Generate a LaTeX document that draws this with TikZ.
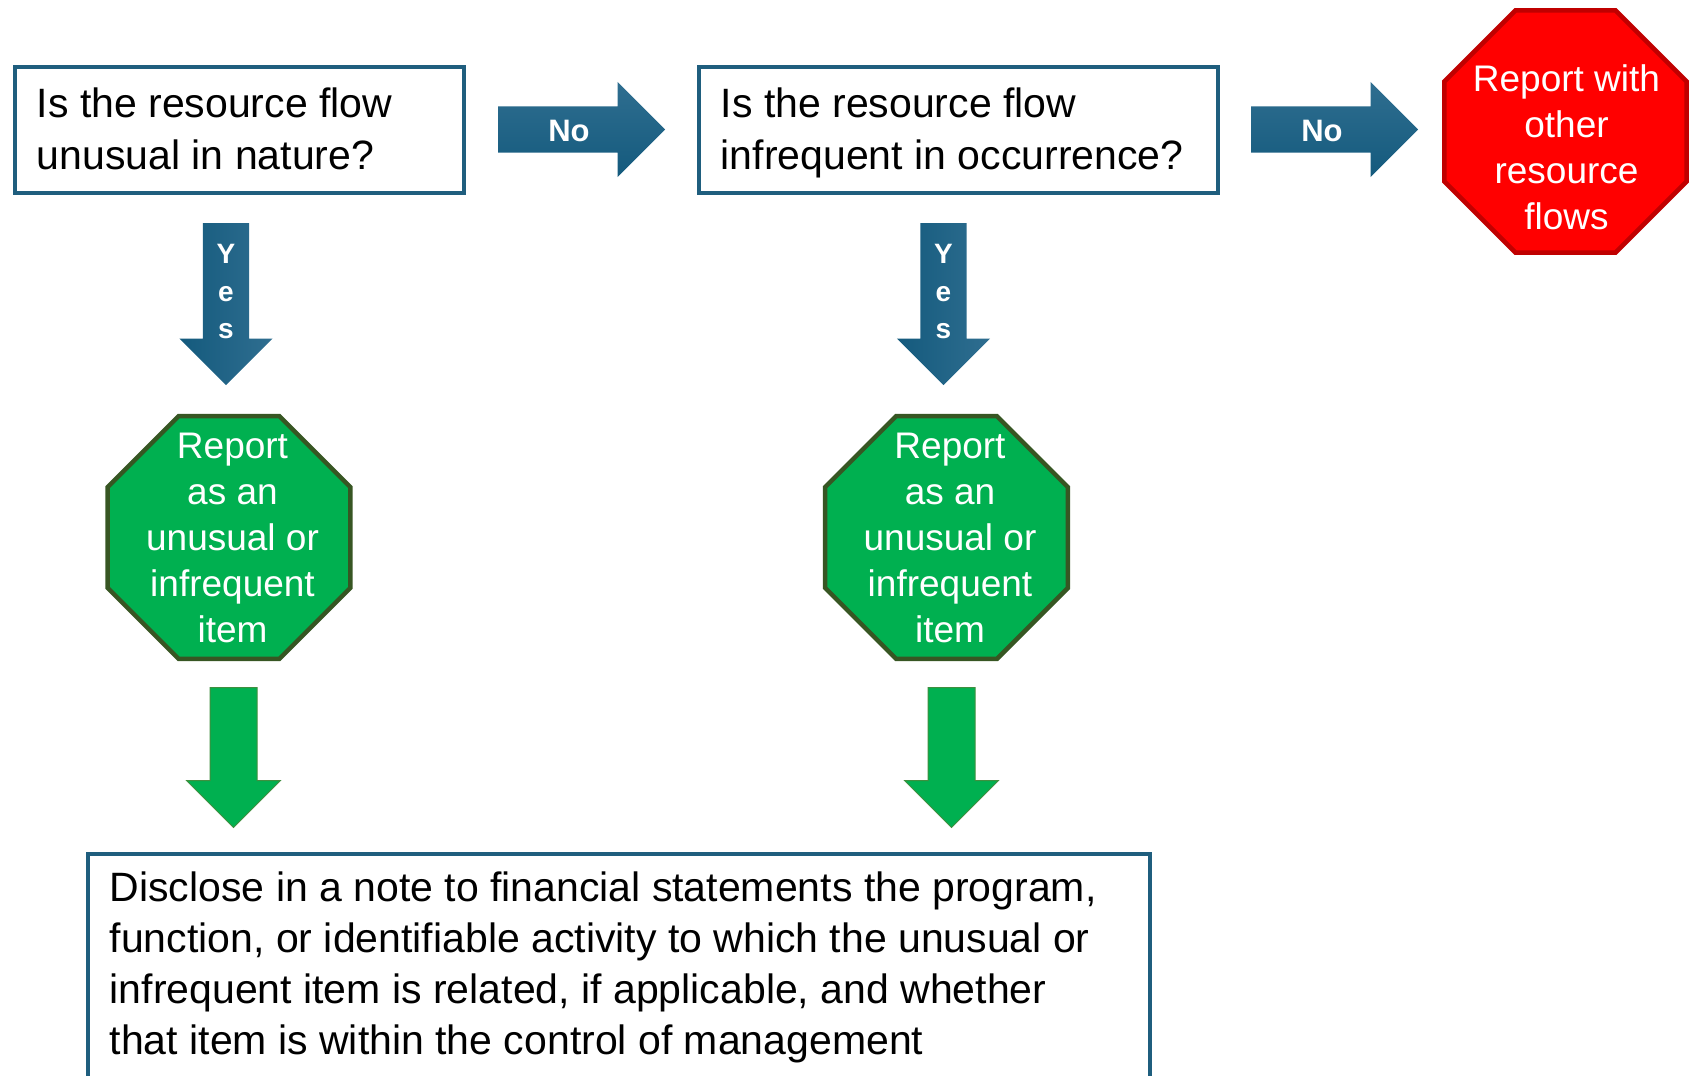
\documentclass[tikz,border=0pt]{standalone}
\usepackage{fontspec}
\setmainfont{Liberation Sans}
\usetikzlibrary{shapes.geometric,shapes.arrows}
\definecolor{boxblue}{HTML}{1F5E7E}
\definecolor{arrowblue}{HTML}{145A7D}
\definecolor{arrowlight}{HTML}{2F6E90}
\definecolor{stopgreen}{HTML}{00B050}
\definecolor{stopgreenline}{HTML}{375623}
\definecolor{greenedge}{HTML}{3F8F3F}
\definecolor{stopred}{HTML}{FF0000}
\definecolor{stopredline}{HTML}{C00000}
\newcommand\wordgap{\spaceskip=0.278em plus 0.1em minus 0.05em\relax}

\begin{document}
\begin{tikzpicture}
[x=1pt,y=-1pt,
 question/.style={draw=boxblue,line width=3.5pt,fill=white,anchor=north west,
   align=left,inner xsep=22pt,font=\fontsize{41}{52}\selectfont,
   execute at begin node=\wordgap},
 stopsign/.style={regular polygon,regular polygon sides=8,line width=4.5pt,inner sep=0pt},
 signtext/.style={text=white,align=center,font=\fontsize{37}{46}\selectfont},
 blockarrow/.style={single arrow,anchor=tail,minimum width=0pt,inner sep=23pt,
   single arrow tip angle=90},
 noarrow/.style={blockarrow,minimum height=167pt,single arrow head extend=24.5pt,
   top color=arrowlight,bottom color=arrowblue},
 yesarrow/.style={blockarrow,shape border rotate=270,minimum height=162pt,
   single arrow head extend=23.5pt,left color=arrowblue,right color=arrowlight},
 greenarrow/.style={blockarrow,shape border rotate=270,minimum height=140pt,
   single arrow head extend=23.5pt,fill=stopgreen,draw=greenedge,line width=1pt},
 nolabel/.style={text=white,font=\fontsize{31}{31}\bfseries\selectfont},
 yeslabel/.style={text=white,align=center,font=\fontsize{28}{37.5}\bfseries\selectfont}]

	\useasboundingbox (0,0) rectangle (1692,1076);
	\clip (0,0) rectangle (1692,1076);
	%\draw[gray,step=50] (0,0) grid (1692,1076);

	\node[question,minimum width=449pt,minimum height=126pt,text width=405pt] (unusual) at (13,65)
	{\rule{0pt}{43pt}Is the resource flow\\unusual in nature?\strut};
	\node[question,minimum width=519pt,minimum height=126pt,text width=475pt] (infrequent) at (697,65)
	{\rule{0pt}{43pt}Is the resource flow\\infrequent in occurrence?\strut};

	\node[noarrow] (no1) at (498,129.5) {};
	\node[nolabel] (nolbl1) at (569,131) {No};
	\node[noarrow] (no2) at (1251,129.5) {};
	\node[nolabel] (nolbl2) at (1322,131) {No};

	\node[stopsign,fill=stopred,draw=stopredline,minimum size=262pt] (other) at (1565.5,131.5) {};
	\node[signtext] (othertxt) at (1566.5,147)
	{Report with\\other\\resource\\flows};

	\node[yesarrow] (yes1) at (226,223) {};
	\node[yeslabel] (yeslbl1) at (226,292) {Y\\e\\s};
	\node[yesarrow] (yes2) at (943.5,223) {};
	\node[yeslabel] (yeslbl2) at (943.5,292) {Y\\e\\s};

	\node[stopsign,fill=stopgreen,draw=stopgreenline,minimum size=263pt] (report1) at (229,537.5) {};
	\node[signtext,xshift=3.5pt] (reporttxt1) at (report1)
	{Report\\as an\\unusual or\\infrequent\\item};
	\node[stopsign,fill=stopgreen,draw=stopgreenline,minimum size=263pt] (report2) at (946.5,537.5) {};
	\node[signtext,xshift=3.5pt] (reporttxt2) at (report2)
	{Report\\as an\\unusual or\\infrequent\\item};

	\node[greenarrow] (down1) at (233.5,687) {};
	\node[greenarrow] (down2) at (951.5,687) {};

	\node[question,text width=1018pt,inner ysep=18pt,font=\fontsize{41}{51}\selectfont] (disclose) at (86,852)
	{Disclose in a note to financial statements the program,\\
	function, or identifiable activity to which the unusual or\\
	infrequent item is related, if applicable, and whether\\
	that item is within the control of management};
\end{tikzpicture}
\end{document}
